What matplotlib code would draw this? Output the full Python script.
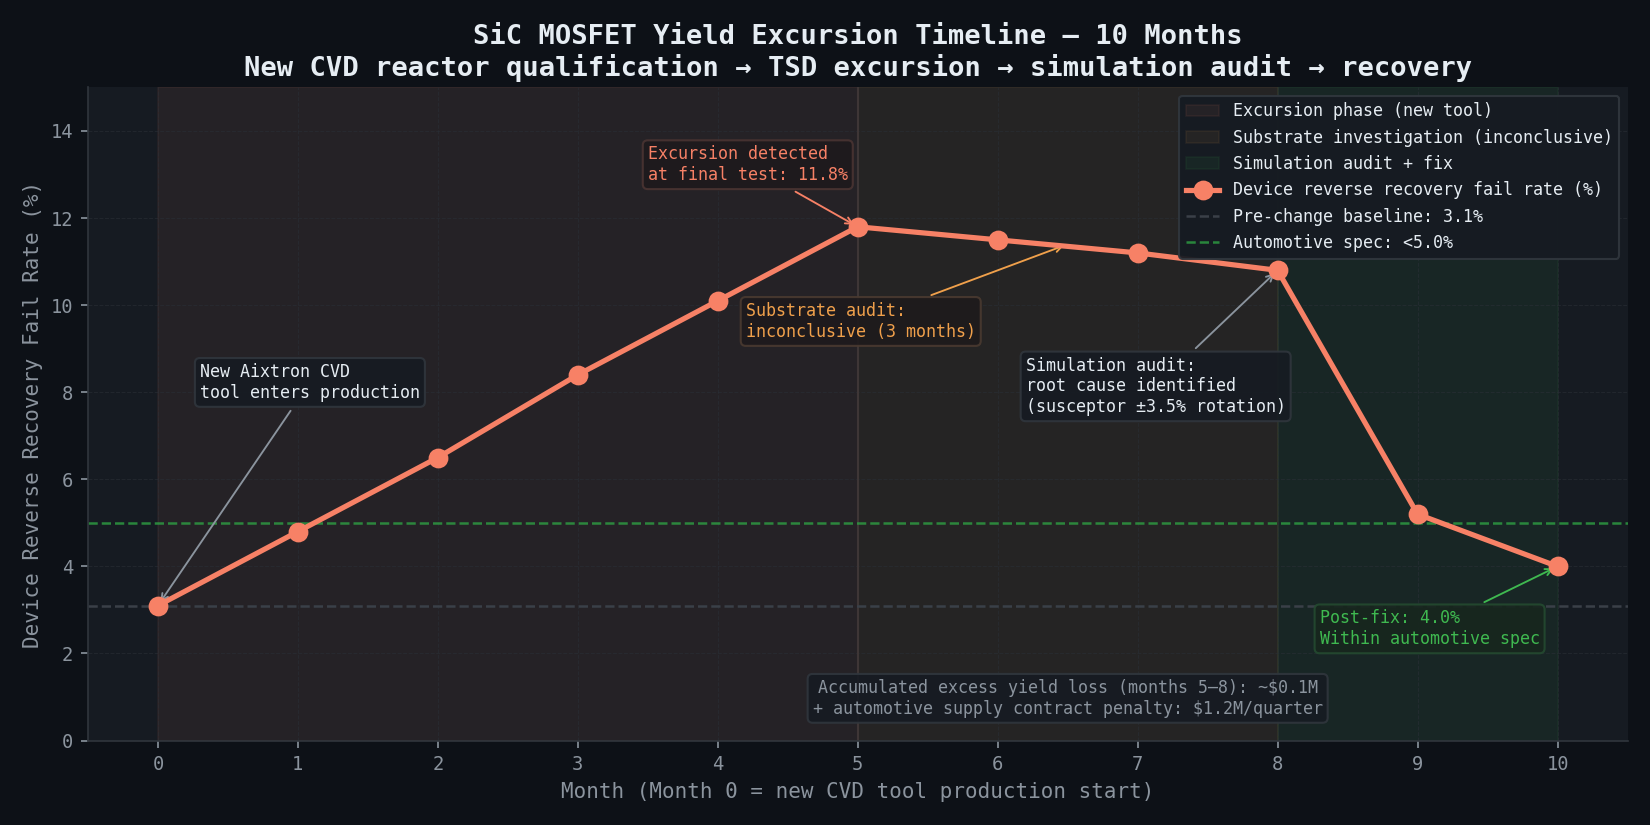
import numpy as np
import matplotlib.pyplot as plt

plt.rcParams['font.family'] = ['DejaVu Sans Mono', 'DejaVu Sans']

# Data
months = [0, 1, 2, 3, 4, 5, 6, 7, 8, 9, 10]
fail_rate = [3.1, 4.8, 6.5, 8.4, 10.1, 11.8, 11.5, 11.2, 10.8, 5.2, 4.0]
baseline = 3.1
spec = 5.0
phases = [(0, 5, '#f78166', 'Excursion phase (new tool)'),
          (5, 8, '#f0a04b', 'Substrate investigation (inconclusive)'),
          (8, 10, '#3fb950', 'Simulation audit + fix')]

BG = '#0d1117'
AX = '#161b22'
LINE = '#f78166'
GRID = '#30363d'
TXT = '#8b949e'

fig, ax = plt.subplots(figsize=(11, 5.5), dpi=150)
fig.patch.set_facecolor(BG)
ax.set_facecolor(AX)

for x0, x1, c, lab in phases:
    ax.axvspan(x0, x1, facecolor=c, alpha=0.07, edgecolor=c, lw=0.8, label=lab)
ax.axvline(5, color='#3e3636', lw=1)

ax.plot(months, fail_rate, color=LINE, lw=2.5, marker='o', ms=8.5,
        label='Device reverse recovery fail rate (%)', zorder=5)
ax.axhline(baseline, color='#3a4048', ls='--', lw=1.2,
           label=f'Pre-change baseline: {baseline}%')
ax.axhline(spec, color='#2ea043', ls='--', lw=1.2, alpha=0.8,
           label=f'Automotive spec: <{spec}%')

box = dict(boxstyle='round,pad=0.3', fc='#161b22', ec='#30363d', alpha=0.9)
fs = 8

ax.annotate('New Aixtron CVD\ntool enters production', xy=(0, 3.1), xytext=(0.3, 7.78),
            color='#e6edf3', fontsize=fs, ha='left', va='bottom',
            bbox=box, arrowprops=dict(arrowstyle='->', color='#8b949e', lw=0.9))

ax.annotate('Excursion detected\nat final test: 11.8%', xy=(5, 11.8), xytext=(3.5, 12.78),
            color=LINE, fontsize=fs, ha='left', va='bottom',
            bbox=dict(boxstyle='round,pad=0.3', fc='#1e1a1c', ec='#4a3432', alpha=0.9),
            arrowprops=dict(arrowstyle='->', color=LINE, lw=0.9))

ax.annotate('Substrate audit:\ninconclusive (3 months)', xy=(6.5, 11.4), xytext=(4.2, 9.18),
            color='#f0a04b', fontsize=fs, ha='left', va='bottom',
            bbox=dict(boxstyle='round,pad=0.3', fc='#1e1a1c', ec='#4a3a30', alpha=0.9),
            arrowprops=dict(arrowstyle='->', color='#f0a04b', lw=0.9))

ax.annotate('Simulation audit:\nroot cause identified\n(susceptor ±3.5% rotation)',
            xy=(8, 10.8), xytext=(6.2, 7.45),
            color='#e6edf3', fontsize=fs, ha='left', va='bottom',
            bbox=box, arrowprops=dict(arrowstyle='->', color='#8b949e', lw=0.9))

ax.annotate('Post-fix: 4.0%\nWithin automotive spec', xy=(10, 4.0), xytext=(8.3, 2.12),
            color='#3fb950', fontsize=fs, ha='left', va='bottom',
            bbox=dict(boxstyle='round,pad=0.3', fc='#17261e', ec='#244a30', alpha=0.9),
            arrowprops=dict(arrowstyle='->', color='#3fb950', lw=0.9))

ax.text(6.5, 0.97, 'Accumulated excess yield loss (months 5\u20138): ~$0.1M\n'
        '+ automotive supply contract penalty: $1.2M/quarter',
        color=TXT, fontsize=fs, ha='center', va='center', bbox=box)

ax.set_xlim(-0.5, 10.5)
ax.set_ylim(0, 15)
ax.set_xticks(months)
ax.set_yticks(range(0, 15, 2))
ax.tick_params(colors=TXT, labelsize=9)
for s in ax.spines.values():
    s.set_color(GRID)
ax.spines['top'].set_visible(False)
ax.spines['right'].set_visible(False)
ax.grid(True, color='#2a2f36', ls='--', lw=0.5, alpha=0.6)

ax.set_xlabel('Month (Month 0 = new CVD tool production start)', color=TXT, fontsize=10)
ax.set_ylabel('Device Reverse Recovery Fail Rate (%)', color=TXT, fontsize=10)
ax.set_title('SiC MOSFET Yield Excursion Timeline \u2014 10 Months\n'
             'New CVD reactor qualification \u2192 TSD excursion \u2192 simulation audit \u2192 recovery',
             color='#e6edf3', fontsize=13, fontweight='bold', pad=5.5)

leg = ax.legend(loc='upper right', fontsize=8, facecolor='#161b22', edgecolor=GRID,
                labelcolor='#e6edf3', framealpha=0.95)

plt.tight_layout()
fig.subplots_adjust(top=0.894)
plt.savefig('out.png', dpi=150, facecolor=BG)
